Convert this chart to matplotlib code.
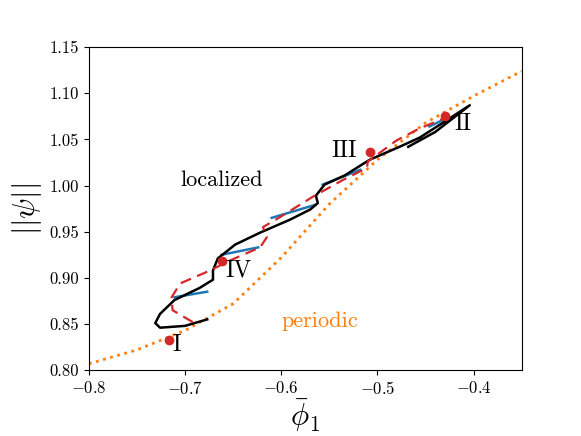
import numpy as np
import matplotlib.pyplot as plt

plt.rcParams['font.family'] = 'serif'
plt.rcParams['font.serif'] = ['cmr10']
plt.rcParams['mathtext.fontset'] = 'cm'
plt.rcParams['axes.formatter.use_mathtext'] = True

# rama localizada (negro)
loc_x = [-0.677, -0.700, -0.726, -0.731, -0.726, -0.711, -0.685, -0.671, -0.671, -0.666, -0.648,
         -0.622, -0.591, -0.570, -0.562, -0.564, -0.555, -0.534, -0.508, -0.477, -0.456, -0.435,
         -0.404, -0.440, -0.468]
loc_y = [0.855, 0.848, 0.846, 0.851, 0.861, 0.876, 0.889, 0.898, 0.908, 0.921, 0.936,
         0.949, 0.963, 0.974, 0.981, 0.989, 1.001, 1.011, 1.028, 1.042, 1.052, 1.066,
         1.087, 1.058, 1.042]

# rama discontinua (rojo)
dash_x = [-0.692, -0.713, -0.714, -0.705, -0.674, -0.653, -0.622, -0.615, -0.619, -0.601,
          -0.567, -0.536, -0.511, -0.510, -0.480, -0.456, -0.428]
dash_y = [0.852, 0.865, 0.879, 0.894, 0.908, 0.919, 0.933, 0.944, 0.955, 0.966,
          0.988, 1.006, 1.019, 1.026, 1.049, 1.062, 1.074]

# segmentos azules
blue_segs = [([-0.711, -0.677], [0.879, 0.885]),
             ([-0.662, -0.624], [0.925, 0.933]),
             ([-0.610, -0.565], [0.965, 0.979]),
             ([-0.557, -0.518], [1.001, 1.017]),
             ([-0.446, -0.428], [1.064, 1.073])]

# rama periodica (naranja)
per_x = [-0.8, -0.75, -0.7, -0.65, -0.6, -0.55, -0.5, -0.45, -0.4, -0.35]
per_y = [0.807, 0.822, 0.843, 0.872, 0.922, 0.980, 1.028, 1.068, 1.097, 1.124]

# puntos marcados
pts_x = [-0.717, -0.430, -0.508, -0.662]
pts_y = [0.833, 1.075, 1.036, 0.918]
pts_lab = ['I', 'II', 'III', 'IV']
lab_off = [(0.004, -0.012), (0.010, -0.015), (-0.040, -0.005), (0.004, -0.017)]

fig = plt.figure(figsize=(5.81, 4.36), dpi=100)
ax = fig.add_axes([0.153, 0.151, 0.745, 0.741])

ax.plot(per_x, per_y, ':', color='#ff7f0e', lw=2)
for sx, sy in blue_segs:
    ax.plot(sx, sy, color='#1f77b4', lw=1.8)
ax.plot(loc_x, loc_y, color='black', lw=1.8)
ax.plot(dash_x, dash_y, '--', color='#d62728', lw=1.6, dashes=(5, 3))
ax.plot(pts_x, pts_y, 'o', color='#d62728', ms=6)
for x, y, t, (dx, dy) in zip(pts_x, pts_y, pts_lab, lab_off):
    ax.text(x + dx, y + dy, t, fontsize=17)

ax.text(-0.705, 1.0, 'localized', fontsize=16)
ax.text(-0.600, 0.847, 'periodic', fontsize=16, color='#ff7f0e')

ax.set_xlim(-0.8, -0.35)
ax.set_ylim(0.80, 1.15)
ax.set_xticks([-0.8, -0.7, -0.6, -0.5, -0.4])
ax.set_yticks(np.arange(0.80, 1.151, 0.05))
ax.set_yticklabels(['%.2f' % v for v in np.arange(0.80, 1.151, 0.05)])
ax.tick_params(labelsize=12)
ax.set_xlabel(r'$\bar{\phi}_1$', fontsize=22, labelpad=0)
ax.set_ylabel(r'$||\psi||$', fontsize=22)

fig.savefig('out.png')
